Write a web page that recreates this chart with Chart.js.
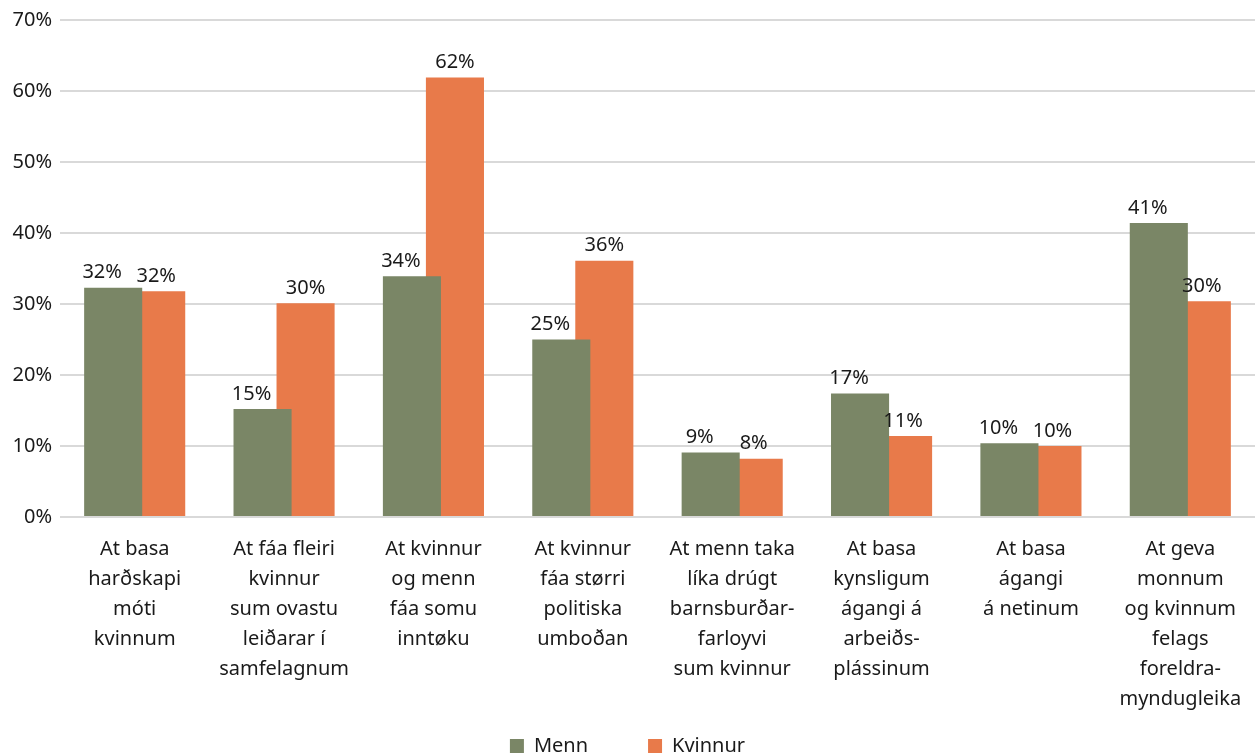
<!DOCTYPE html>
<html>
<head>
<meta charset="utf-8">
<script src="https://cdn.jsdelivr.net/npm/chart.js@4.4.1/dist/chart.umd.min.js"></script>
<style>
  html, body { margin: 0; padding: 0; background: #fff; overflow: hidden; }
  #wrap { width: 1255px; height: 766px; position: relative; }
</style>
</head>
<body>
<div id="wrap"><canvas id="myChart"></canvas></div>
<script>
let categories = [
  ['At basa', 'harðskapi', 'móti', 'kvinnum'],
  ['At fáa fleiri', 'kvinnur', 'sum ovastu', 'leiðarar í', 'samfelagnum'],
  ['At kvinnur', 'og menn', 'fáa somu', 'inntøku'],
  ['At kvinnur', 'fáa størri', 'politiska', 'umboðan'],
  ['At menn taka', 'líka drúgt', 'barnsburðar-', 'farloyvi', 'sum kvinnur'],
  ['At basa', 'kynsligum', 'ágangi á', 'arbeiðs-', 'plássinum'],
  ['At basa', 'ágangi', 'á netinum'],
  ['At geva', 'monnum', 'og kvinnum', 'felags', 'foreldra-', 'myndugleika']
];
let menn = [32.3, 15.2, 33.9, 25.0, 9.1, 17.4, 10.4, 41.4];
let kvinnur = [31.8, 30.1, 61.9, 36.1, 8.2, 11.4, 10.0, 30.4];
let yTicks = [0, 10, 20, 30, 40, 50, 60, 70];

let fontFamily = '"Noto Sans", "Open Sans", sans-serif';

// labels above the bars, like the values in the original
let valueLabels = {
  id: 'valueLabels',
  afterDatasetsDraw(chart) {
    let ctx = chart.ctx;
    ctx.save();
    ctx.font = '20px ' + fontFamily;
    ctx.fillStyle = '#1a1a1a';
    ctx.textAlign = 'center';
    ctx.textBaseline = 'bottom';
    chart.data.datasets.forEach(function(ds, i) {
      chart.getDatasetMeta(i).data.forEach(function(bar, j) {
        let x = bar.x;
        if (i == 0) x = bar.x - 11;
        ctx.fillText(Math.round(ds.data[j]) + '%', x, bar.y - 5);
      });
    });
    ctx.restore();
  }
};

let ctx = document.getElementById('myChart');
let myChart = new Chart(ctx, {
  type: 'bar',
  data: {
    labels: categories,
    datasets: [{
      label: 'Menn\u2003\u2003\u2002',
      data: menn,
      backgroundColor: 'rgb(122, 134, 102)',
      categoryPercentage: 0.576,
      barPercentage: 1.35
    }, {
      label: 'Kvinnur',
      data: kvinnur,
      backgroundColor: 'rgb(232, 122, 74)',
      categoryPercentage: 0.576,
      barPercentage: 1.35
    }]
  },
  options: {
    responsive: true,
    maintainAspectRatio: false,
    animation: false,
    layout: { padding: { top: 19, right: 0, left: 0, bottom: 0 } },
    plugins: {
      tooltip: { enabled: false },
      legend: {
        position: 'bottom',
        labels: {
          boxWidth: 14,
          boxHeight: 14,
          padding: 10,
          color: '#1a1a1a',
          font: { size: 20, family: fontFamily }
        }
      }
    },
    scales: {
      x: {
        grid: { display: false },
        border: { display: false },
        ticks: {
          color: '#1a1a1a',
          maxRotation: 0,
          autoSkip: false,
          padding: 9,
          font: { size: 20, family: fontFamily, lineHeight: 1.5 }
        },
        afterFit: function(scale) { scale.height = 209; }
      },
      y: {
        min: 0,
        max: 70,
        afterBuildTicks: function(scale) {
          scale.ticks = yTicks.map(function(v) { return { value: v }; });
        },
        grid: { color: '#d9d9d9', lineWidth: 2, drawTicks: false },
        border: { display: false },
        ticks: {
          color: '#1a1a1a',
          padding: 8,
          font: { size: 20, family: fontFamily },
          callback: function(v) { return v + '%'; }
        },
        afterFit: function(scale) { scale.width = 60; }
      }
    }
  },
  plugins: [valueLabels]
});
</script>
</body>
</html>
